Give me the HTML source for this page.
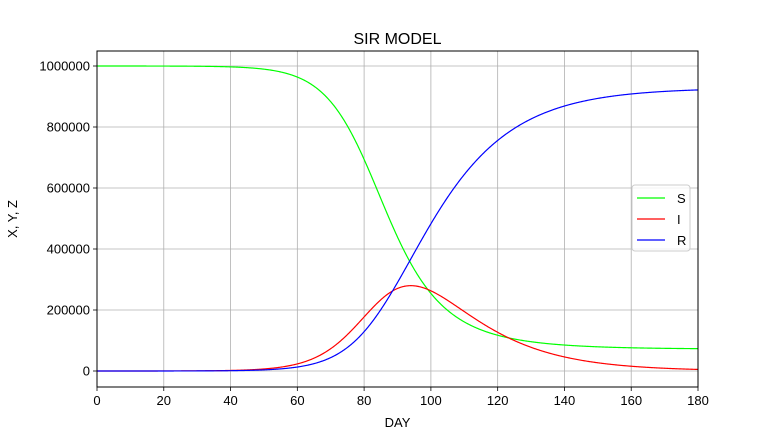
<!DOCTYPE html>
<html><head><meta charset="utf-8"><style>
body{margin:0;background:#fff;}
svg{font-family:"Liberation Sans","DejaVu Sans",sans-serif;}
</style></head><body>
<svg id="c" width="776" height="434" viewBox="0 0 776 434" xmlns="http://www.w3.org/2000/svg">
<rect width="776" height="434" fill="#fff"/>
<g id="grid" stroke="#b0b0b0" stroke-width="0.8"></g>
<g id="ticks" font-size="13" fill="#000"></g>
<path id="pS" fill="none" stroke="#00ff00" stroke-width="1.2"/>
<path id="pI" fill="none" stroke="#ff0000" stroke-width="1.2"/>
<path id="pR" fill="none" stroke="#0000ff" stroke-width="1.2"/>
<rect x="97" y="51" width="601" height="336" fill="none" stroke="#000" stroke-width="1"/>
<text x="397.5" y="44" font-size="16" text-anchor="middle">SIR MODEL</text>
<text x="397.5" y="427" font-size="13" text-anchor="middle">DAY</text>
<text transform="translate(17,219) rotate(-90)" font-size="13" text-anchor="middle">X, Y, Z</text>
<g>
<rect x="632" y="185" width="58" height="66" fill="#fff" fill-opacity="0.8" stroke="#ccc" rx="3"/>
<line x1="637" y1="198" x2="665" y2="198" stroke="#00ff00" stroke-width="1.2"/>
<line x1="637" y1="219" x2="665" y2="219" stroke="#ff0000" stroke-width="1.2"/>
<line x1="637" y1="240" x2="665" y2="240" stroke="#0000ff" stroke-width="1.2"/>
<text x="677" y="203" font-size="13">S</text>
<text x="677" y="224" font-size="13">I</text>
<text x="677" y="245" font-size="13">R</text>
</g>
</svg>
<script>
var X=function(d){return 97+d*601/180;};
var Y=function(v){return 371-v*305/1e6;};
var g=document.getElementById('grid'),tk=document.getElementById('ticks'),ns='http://www.w3.org/2000/svg';
function el(p,n,a,t){var e=document.createElementNS(ns,n);for(var k in a)e.setAttribute(k,a[k]);if(t!=null)e.textContent=t;p.appendChild(e);return e;}
for(var d=0;d<=180;d+=20){var x=X(d);el(g,'line',{x1:x,x2:x,y1:51,y2:387});el(g,'line',{x1:x,x2:x,y1:387,y2:391,stroke:'#000'});el(tk,'text',{x:x,y:405,'text-anchor':'middle'},d);}
for(var v=0;v<=1e6;v+=2e5){var y=Y(v);el(g,'line',{x1:97,x2:698,y1:y,y2:y});el(g,'line',{x1:93,x2:97,y1:y,y2:y,stroke:'#000'});el(tk,'text',{x:90,y:y+4.5,'text-anchor':'end'},v);}
var N=1e6,gam=0.07,beta=0.1985,S=N-1,I=1,R=0,dt=0.01,t=0,arr=[],tp=0,ip=0;
while(t<400){arr.push([t,S,I,R]);if(I>ip){ip=I;tp=t;}var a=beta*S*I/N,b=gam*I;
var S2=S-a*dt/2,I2=I+(a-b)*dt/2;var a2=beta*S2*I2/N,b2=gam*I2;S-=a2*dt;I+=(a2-b2)*dt;R+=b2*dt;t+=dt;}
var sh=tp-94,ps='',pi='',pr='';
for(var k=0;k<arr.length;k+=20){var day=arr[k][0]-sh;if(day<0||day>180)continue;var x=X(day).toFixed(2);
ps+=(ps?'L':'M')+x+','+Y(arr[k][1]).toFixed(2);pi+=(pi?'L':'M')+x+','+Y(arr[k][2]).toFixed(2);pr+=(pr?'L':'M')+x+','+Y(arr[k][3]).toFixed(2);}
document.getElementById('pS').setAttribute('d',ps);document.getElementById('pI').setAttribute('d',pi);document.getElementById('pR').setAttribute('d',pr);
</script>
</body></html>
